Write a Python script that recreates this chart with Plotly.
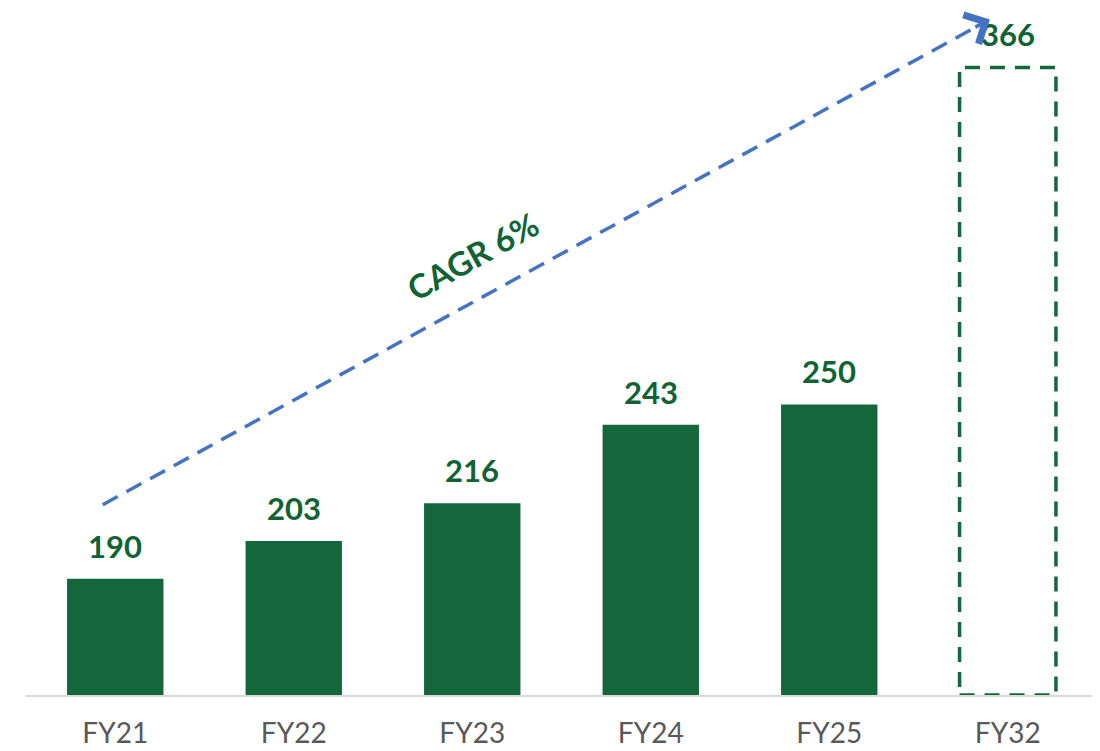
import plotly.graph_objects as go

categories = ["FY21", "FY22", "FY23", "FY24", "FY25", "FY32"]
values = [190, 203, 216, 243, 250, 366]
actual_count = 5  # first five are actual bars, last is projection
cagr_label = "CAGR 6%"

BAR_GREEN = "#13673A"
TEXT_GREEN = "#0F6334"
ARROW_BLUE = "#4472C4"
FONT = "Lato, Carlito, Calibri, sans-serif"

y_min, y_max = 150, 383.0
bar_w = 0.54

fig = go.Figure()
fig.add_trace(go.Bar(
    x=categories[:actual_count], y=values[:actual_count],
    marker=dict(color=BAR_GREEN, line=dict(width=0)),
    width=bar_w, hoverinfo="x+y",
))
# invisible placeholder so FY32 category exists
fig.add_trace(go.Bar(
    x=categories[actual_count:], y=values[actual_count:],
    marker=dict(color="rgba(0,0,0,0)", line=dict(width=0)),
    width=bar_w, hoverinfo="x+y",
))

# dashed outline for projection
for i in range(actual_count, len(categories)):
    fig.add_shape(type="rect", xref="x", yref="y",
                  x0=i - bar_w / 2, x1=i + bar_w / 2, y0=y_min, y1=values[i],
                  line=dict(color=BAR_GREEN, width=3.5, dash="15px,10px"),
                  fillcolor="rgba(0,0,0,0)", layer="above")

# value labels
for c, v in zip(categories, values):
    fig.add_annotation(x=c, y=v, text=f"<b>{v}</b>", showarrow=False,
                       yanchor="bottom", yshift=12,
                       font=dict(family=FONT, size=31, color=TEXT_GREEN))

# CAGR arrow (dashed line + arrowhead)
x_start, y_start = -0.07, 215.5
x_end, y_end = 4.9, 382.5
fig.add_shape(type="line", xref="x", yref="y",
              x0=x_start, y0=y_start, x1=x_end - 0.03, y1=y_end - 1.0,
              line=dict(color=ARROW_BLUE, width=3.5, dash="17px,10px"), layer="above")
fig.add_annotation(x=x_end, y=y_end, ax=x_end - 0.09, ay=y_end - 2.9,
                   xref="x", yref="y", axref="x", ayref="y",
                   text="", showarrow=True, arrowhead=4, arrowsize=1.8,
                   arrowwidth=3.5, arrowcolor=ARROW_BLUE)
fig.add_annotation(x=2.0, y=301, xref="x", yref="y",
                   text=f"<b>{cagr_label}</b>", showarrow=False, textangle=-29,
                   font=dict(family=FONT, size=33, color=TEXT_GREEN))

fig.update_layout(
    width=1100, height=751,
    margin=dict(l=18, r=11, t=10, b=60),
    paper_bgcolor="white", plot_bgcolor="white",
    showlegend=False, bargap=0.46,
    xaxis=dict(type="category", showgrid=False, showline=True,
               linecolor="#D9D9D9", linewidth=2, ticks="",
               ticklabelstandoff=12,
               tickfont=dict(family=FONT, size=28, color="#595959")),
    yaxis=dict(range=[y_min, y_max], visible=False, showgrid=False),
)

fig.write_html("out.html")
